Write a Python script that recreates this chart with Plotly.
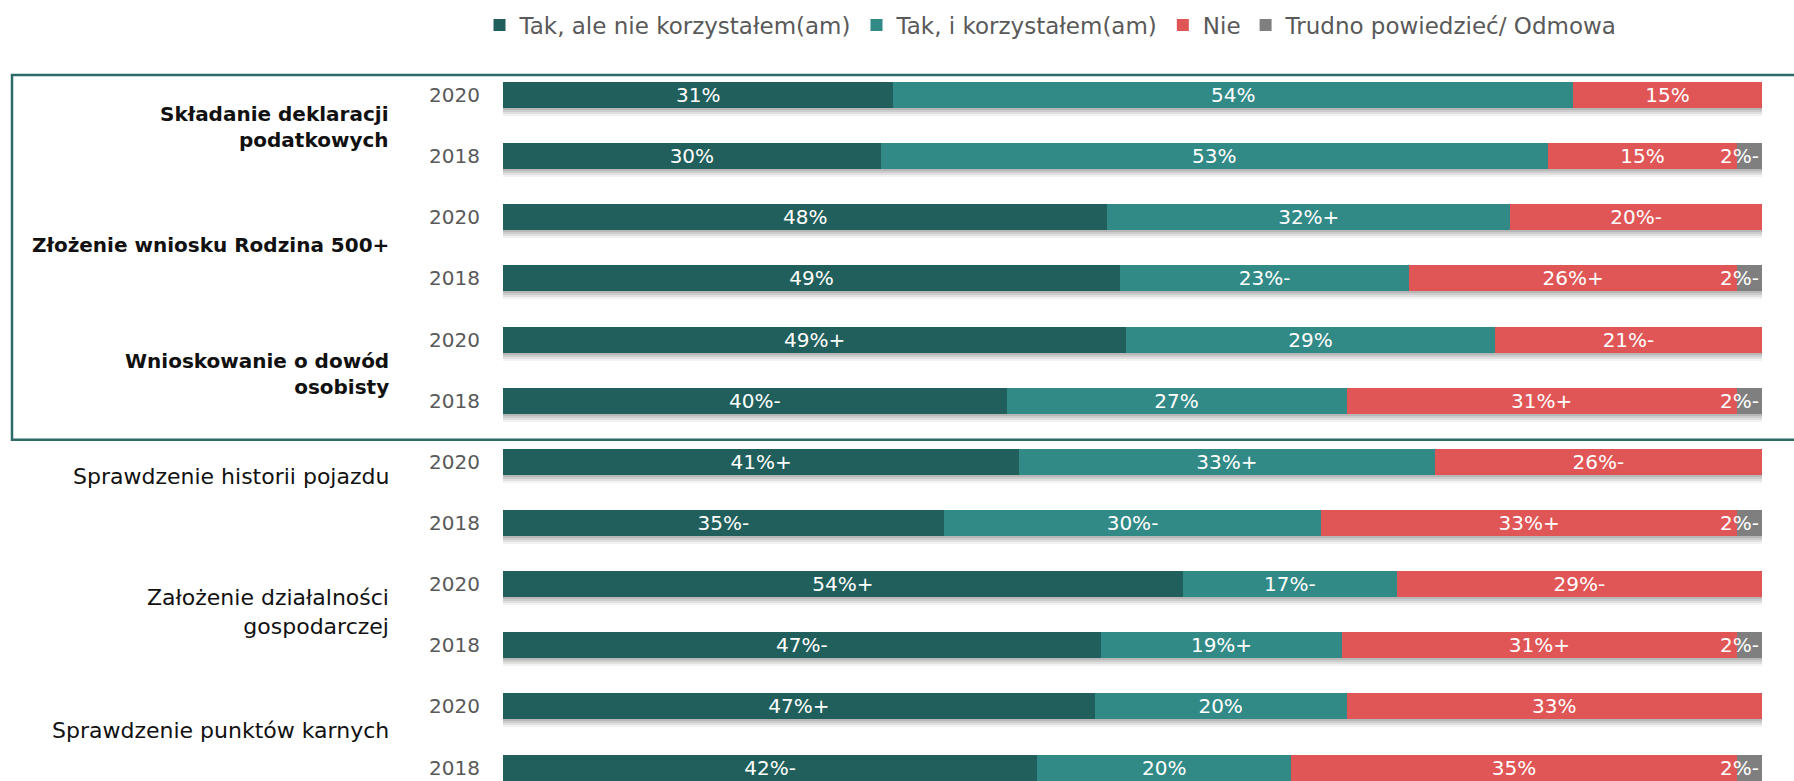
import plotly.graph_objects as go

# Survey: awareness and use of online public services, 2020 vs 2018
categories = [
    "Składanie deklaracji<br>podatkowych",
    "Złożenie wniosku Rodzina 500+",
    "Wnioskowanie o dowód<br>osobisty",
    "Sprawdzenie historii pojazdu",
    "Założenie działalności<br>gospodarczej",
    "Sprawdzenie punktów karnych",
]
highlighted = [True, True, True, False, False, False]
years = ["2020", "2018"] * 6

series_names = [
    "Tak, ale nie korzystałem(am)",
    "Tak, i korzystałem(am)",
    "Nie",
    "Trudno powiedzieć/ Odmowa",
]
aware_not_used = [31, 30, 48, 49, 49, 40, 41, 35, 54, 47, 47, 42]
aware_used = [54, 53, 32, 23, 29, 27, 33, 30, 17, 19, 20, 20]
not_aware = [15, 15, 20, 26, 21, 31, 26, 33, 29, 31, 33, 35]
hard_to_say = [0, 2, 0, 2, 0, 2, 0, 2, 0, 2, 0, 2]

# significance markers shown after each value
sig_aware_not_used = ["", "", "", "", "+", "-", "+", "-", "+", "-", "+", "-"]
sig_aware_used = ["", "", "+", "-", "", "", "+", "-", "-", "+", "", ""]
sig_not_aware = ["", "", "-", "+", "-", "+", "-", "+", "-", "+", "", ""]
sig_hard_to_say = ["-"] * 12

series_values = [aware_not_used, aware_used, not_aware, hard_to_say]
series_sig = [sig_aware_not_used, sig_aware_used, sig_not_aware, sig_hard_to_say]
colors = ["#215F5C", "#328A87", "#E05656", "#7F7F7F"]

FONT = "DejaVu Sans"
n = len(years)
pos = list(range(n))

# pixel geometry helpers
PLOT_TOP = 60
HEIGHT = 781
Y_TOP = -0.572
Y_BOTTOM = 11.22
PX_PER_UNIT = (HEIGHT - PLOT_TOP) / (Y_BOTTOM - Y_TOP)
BAR_W = 26 / PX_PER_UNIT

fig = go.Figure()

# soft drop shadow under each full bar
totals = [sum(v) for v in zip(*series_values)]
for off_px, alpha in [(2, 0.10), (4, 0.09), (6, 0.07), (8, 0.05)]:
    fig.add_trace(go.Bar(
        x=totals,
        y=[p + off_px / PX_PER_UNIT for p in pos],
        orientation="h",
        width=BAR_W,
        marker=dict(color=f"rgba(0,0,0,{alpha})", line=dict(width=0)),
        showlegend=False,
        hoverinfo="skip",
    ))

for name, vals, sig, col in zip(series_names, series_values, series_sig, colors):
    texts = [f"{v}%{s}" if v > 0 else "" for v, s in zip(vals, sig)]
    is_small = name == series_names[-1]
    fig.add_trace(go.Bar(
        name=name,
        x=vals,
        y=pos,
        orientation="h",
        width=BAR_W,
        marker=dict(color=col, line=dict(width=0)),
        text=texts,
        textposition="inside",
        insidetextanchor="end" if is_small else "middle",
        textangle=0,
        constraintext="none",
        textfont=dict(family=FONT, size=20, color="white"),
        cliponaxis=True,
    ))

fig.update_layout(
    width=1794,
    height=HEIGHT,
    barmode="stack",
    barnorm="percent",
    plot_bgcolor="white",
    paper_bgcolor="white",
    margin=dict(l=503, r=32, t=PLOT_TOP, b=0, autoexpand=False),
    font=dict(family=FONT, color="#595959"),
    legend=dict(
        orientation="h",
        x=(1051 - 503) / 1259,
        xanchor="center",
        y=1 + (PLOT_TOP - 25) / (HEIGHT - PLOT_TOP),
        yanchor="middle",
        font=dict(family=FONT, size=23, color="#595959"),
        traceorder="normal",
        itemwidth=30,
    ),
    xaxis=dict(range=[0, 100], visible=False, fixedrange=True),
    yaxis=dict(
        range=[Y_BOTTOM, Y_TOP],
        tickvals=pos,
        ticktext=years,
        tickfont=dict(family=FONT, size=20, color="#595959"),
        ticks="outside",
        ticklen=18,
        tickcolor="rgba(0,0,0,0)",
        showgrid=False,
        zeroline=False,
        showline=False,
    ),
    showlegend=True,
)

# category labels, placed beside each pair of bars
label_y = [0.52, 2.45, 4.56, 6.24, 8.45, 10.39]
for cat, bold, yv in zip(categories, highlighted, label_y):
    fig.add_annotation(
        text=f"<b>{cat}</b>" if bold else cat,
        x=(391 - 503) / 1259,
        xref="paper",
        xanchor="right",
        y=yv,
        yref="y",
        yanchor="middle",
        align="right",
        showarrow=False,
        font=dict(family=FONT, size=20 if bold else 22, color="#111111"),
    )

# frame around the highlighted services
fig.add_shape(
    type="rect",
    xref="paper",
    yref="y",
    x0=(12 - 503) / 1259,
    x1=(1800 - 503) / 1259,
    y0=-20 / PX_PER_UNIT,
    y1=5 + (440 - 401) / PX_PER_UNIT,
    line=dict(color="#2E6B68", width=2.5),
    fillcolor="rgba(0,0,0,0)",
    layer="above",
)

fig.write_html("out.html")
